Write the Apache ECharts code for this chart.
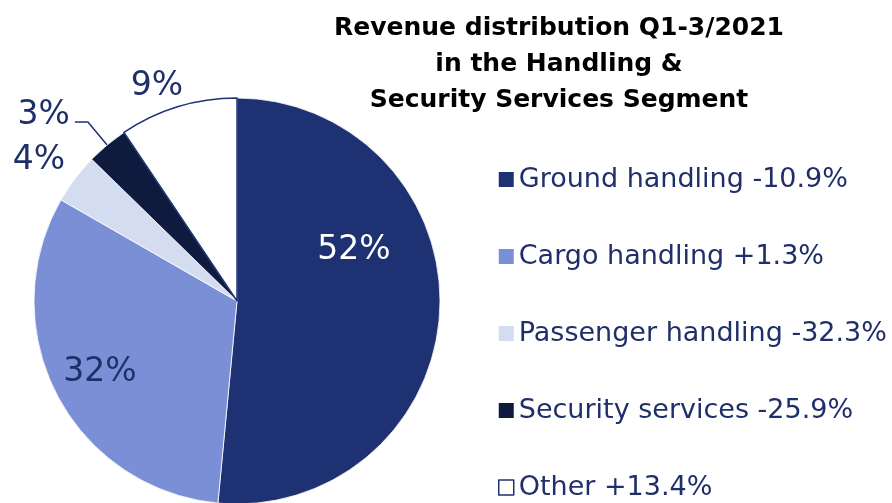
<!DOCTYPE html>
<html>
<head>
<meta charset="utf-8">
<script src="https://cdn.jsdelivr.net/npm/echarts@6/dist/echarts.min.js"></script>
<style>html,body{margin:0;padding:0;background:#fff;}#c{width:892px;height:503px;}</style>
</head>
<body>
<div id="c"></div>
<script>
var categories = ['Ground handling', 'Cargo handling', 'Passenger handling', 'Security services', 'Other'];
var shares = [51.5, 31.8, 4.0, 3.3, 9.4];
var changes = ['-10.9%', '+1.3%', '-32.3%', '-25.9%', '+13.4%'];
var colors = ['#1E3273', '#7B8FD7', '#D4DDEF', '#0E1B3E', '#FFFFFF'];
var labelColors = ['#FFFFFF', '#1F2F6A', '#1F2F6A', '#1F2F6A', '#1F2F6A'];
var labelPos = [[354, 250], [100, 372], [39, 160], null, [157, 86]];

var navy = '#1F2F6A';
var font = 'DejaVu Sans';

var data = categories.map(function (name, i) {
  var isOther = i === 4;
  var isSec = i === 3;
  return {
    name: name,
    value: shares[i],
    itemStyle: {
      color: colors[i],
      borderColor: isOther ? '#1E3273' : '#FFFFFF',
      borderWidth: isOther ? 1.5 : 0.8
    },
    label: {
      position: isSec ? 'outside' : 'inside',
      color: labelColors[i]
    },
    labelLine: { show: isSec }
  };
});

var legendData = categories.map(function (name, i) {
  return {
    name: name,
    itemStyle: i === 4 ? { color: '#FFFFFF', borderColor: '#1E3273', borderWidth: 1.5 } : { borderWidth: 0 }
  };
});

var chart = echarts.init(document.getElementById('c'));
chart.setOption({
  animation: false,
  title: {
    text: 'Revenue distribution Q1-3/2021\nin the Handling &\nSecurity Services Segment',
    left: 554,
    top: 5,
    textAlign: 'center',
    textStyle: { fontFamily: font, fontSize: 25, fontWeight: 'bold', color: '#000000', lineHeight: 36 }
  },
  legend: {
    orient: 'vertical',
    left: 498,
    top: 166,
    height: 420,
    padding: 0,
    itemWidth: 15,
    itemHeight: 15,
    itemGap: 50,
    icon: 'rect',
    data: legendData,
    formatter: function (name) {
      return name + ' ' + changes[categories.indexOf(name)];
    },
    textStyle: { fontFamily: font, fontSize: 27, color: navy, lineHeight: 26 }
  },
  series: [{
    type: 'pie',
    center: [237, 301],
    radius: 203,
    startAngle: 90,
    clockwise: true,
    avoidLabelOverlap: false,
    data: data,
    label: {
      fontFamily: font,
      fontSize: 33,
      formatter: function (p) {
        var t = Math.round(p.value) + '%';
        return p.dataIndex === 3 ? '{a|' + t + '}\n{b|}' : t;
      },
      rich: {
        a: { fontFamily: font, fontSize: 33, lineHeight: 33, color: '#1F2F6A' },
        b: { fontSize: 10, lineHeight: 14 }
      }
    },
    labelLine: {
      length: 30,
      length2: 13,
      smooth: false,
      lineStyle: { color: '#1E3273', width: 1.5 }
    },
    labelLayout: function (params) {
      var pos = labelPos[params.dataIndex];
      if (!pos) return {};
      return { x: pos[0], y: pos[1], align: 'center', verticalAlign: 'middle' };
    },
    emphasis: { disabled: true }
  }]
});
</script>
</body>
</html>
